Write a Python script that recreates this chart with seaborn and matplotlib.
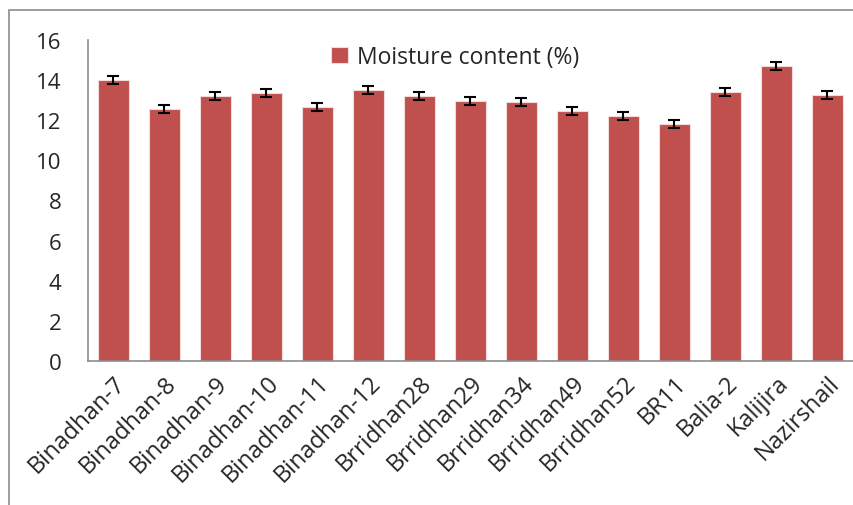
import pandas as pd
import matplotlib.pyplot as plt
import seaborn as sns
from matplotlib.patches import Rectangle

varieties = ['Binadhan-7', 'Binadhan-8', 'Binadhan-9', 'Binadhan-10', 'Binadhan-11',
             'Binadhan-12', 'Brridhan28', 'Brridhan29', 'Brridhan34', 'Brridhan49',
             'Brridhan52', 'BR11', 'Balia-2', 'Kalijira', 'Nazirshail']
moisture = [14.0, 12.55, 13.2, 13.38, 12.68, 13.5, 13.2, 12.98, 12.92, 12.45,
            12.23, 11.8, 13.43, 14.72, 13.27]
err = [0.2] * 15

sns.set_style('white')
plt.rcParams['font.family'] = ['Open Sans', 'DejaVu Sans']

df = pd.DataFrame({'variety': varieties, 'value': moisture, 'err': err})

fig = plt.figure(figsize=(8.54, 5.06), dpi=100)
# outer chart border (cropped on the right/bottom like the screenshot)
fig.patches.append(Rectangle((9 / 854, -0.05), 1.1, 1 - 11 / 506 + 0.05,
                             transform=fig.transFigure, fill=False,
                             edgecolor='#8c8c8c', linewidth=1.2))
ax = fig.add_axes([88 / 854, 1 - 362 / 506, 765 / 854, 321 / 506])

sns.barplot(data=df, x='variety', y='value', color='#C0504D', width=0.59,
            edgecolor='#F2DCDB', linewidth=0.8, saturation=1, ax=ax,
            label='Moisture content (%)', errorbar=None)
xs = [p.get_x() + p.get_width() / 2 for p in ax.patches]
ax.errorbar(xs, df['value'], yerr=df['err'], fmt='none', ecolor='black',
            elinewidth=1.5, capsize=4.5, capthick=1.5)

ax.set_xlim(-0.5, 14.5)
ax.set_ylim(0, 16)
ax.set_yticks(range(0, 17, 2))
ax.set_xlabel('')
ax.set_ylabel('')
ax.tick_params(axis='y', labelsize=16, length=0, pad=19)
ax.tick_params(axis='x', length=0, pad=7)
plt.setp(ax.get_xticklabels(), rotation=45, ha='right', rotation_mode='anchor',
         fontsize=17)
for s in ['top', 'right']:
    ax.spines[s].set_visible(False)
for s in ['left', 'bottom']:
    ax.spines[s].set_color('#8c8c8c')
    ax.spines[s].set_linewidth(1.2)

ax.legend(loc='upper center', bbox_to_anchor=(0.48, 1.05), frameon=False,
          fontsize=16.5, handlelength=0.7, handleheight=0.7, handletextpad=0.4)

fig.savefig('out.png', dpi=100)
